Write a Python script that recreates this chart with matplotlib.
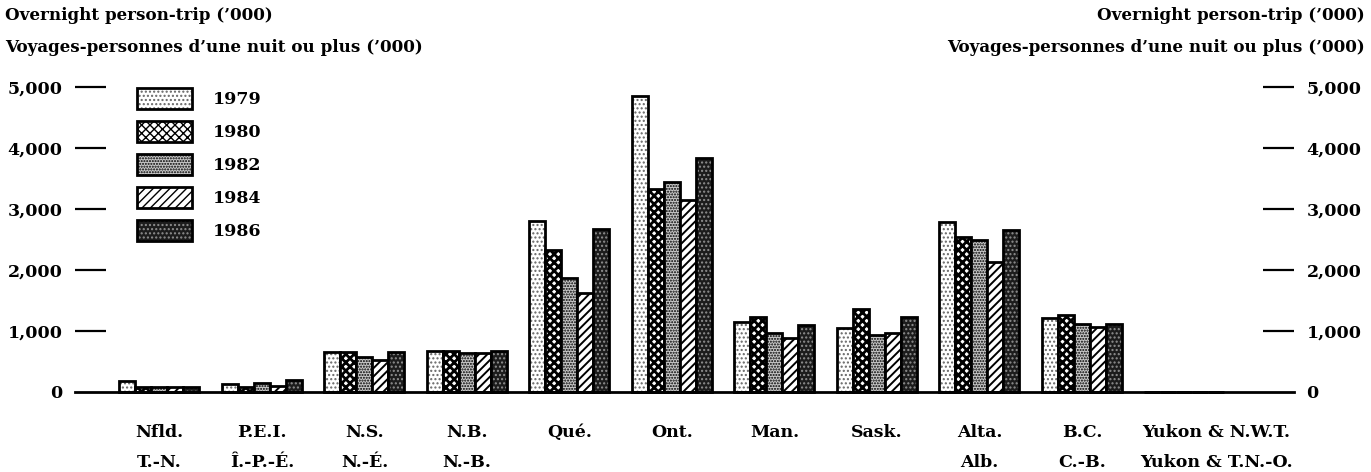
import matplotlib.pyplot as plt
import numpy as np

# provinces, English / French abbreviations
names_en = ['Nfld.', 'P.E.I.', 'N.S.', 'N.B.', 'Qué.', 'Ont.', 'Man.', 'Sask.', 'Alta.', 'B.C.', 'Yukon & N.W.T.']
names_fr = ['T.-N.', 'Î.-P.-É.', 'N.-É.', 'N.-B.', '', '', '', '', 'Alb.', 'C.-B.', 'Yukon & T.N.-O.']
years = ['1979', '1980', '1982', '1984', '1986']

# overnight person-trips ('000)
trips_1979 = [180, 130, 650, 670, 2800, 4850, 1150, 1050, 2790, 1210, 0]
trips_1980 = [90, 90, 650, 670, 2330, 3320, 1230, 1360, 2540, 1260, 0]
trips_1982 = [90, 140, 570, 640, 1870, 3440, 970, 930, 2490, 1110, 0]
trips_1984 = [90, 100, 520, 640, 1620, 3150, 890, 970, 2130, 1070, 0]
trips_1986 = [80, 190, 650, 670, 2670, 3830, 1100, 1230, 2660, 1110, 0]
series = [trips_1979, trips_1980, trips_1982, trips_1984, trips_1986]

yticks = [0, 1000, 2000, 3000, 4000, 5000]
ytick_labels = ['0', '1,000', '2,000', '3,000', '4,000', '5,000']

# fill colour, hatch, hatch colour, hatch linewidth
styles = [
    ('white', '....', '#666666', 1.0),
    ('white', 'xxxx', 'black', 2.0),
    ('#c8c8c8', '......', 'black', 1.0),
    ('white', '////', 'black', 1.4),
    ('#1c1c1c', '....', '#909090', 1.0),
]

plt.rcParams['font.family'] = ['DejaVu Serif']
plt.rcParams['font.weight'] = 'bold'
fs = 12.5

fig = plt.figure(figsize=(13.71, 4.72), dpi=100)
ax = fig.add_axes([75 / 1371, 80 / 472, 1219 / 1371, 305 / 472])

x = np.arange(len(names_en))
w = 0.156
handles = []
for j, (vals, st) in enumerate(zip(series, styles)):
    face, hatch, hcol, hlw = st
    pos = x + (j - 2) * w
    with plt.rc_context({'hatch.linewidth': hlw}):
        b1 = ax.bar(pos, vals, w, color=face, hatch=hatch, edgecolor=hcol, linewidth=0, clip_on=False)
    b2 = ax.bar(pos, vals, w, fill=False, edgecolor='black', linewidth=2, clip_on=False)
    handles.append((b1[0], b2[0]))

ax.set_xlim(-0.824, 11.07)
ax.set_ylim(0, 5000)
for s in ['top', 'left', 'right']:
    ax.spines[s].set_visible(False)
ax.spines['bottom'].set_linewidth(2)
ax.set_xticks([])
ax.set_yticks(yticks)
ax.set_yticklabels(ytick_labels, fontsize=fs)
ax.tick_params(axis='y', direction='in', length=22, width=1.6, pad=9,
               left=True, right=True, labelleft=True, labelright=True)
ax.yaxis.get_major_ticks()[0].tick1line.set_visible(False)
ax.yaxis.get_major_ticks()[0].tick2line.set_visible(False)

label_x = x.astype(float)
label_x[-1] += 0.31
for xi, en, fr in zip(label_x, names_en, names_fr):
    ax.text(xi, -0.134, en, transform=ax.get_xaxis_transform(), ha='center', va='center', fontsize=fs)
    ax.text(xi, -0.23, fr, transform=ax.get_xaxis_transform(), ha='center', va='center', fontsize=fs)

leg = ax.legend(handles, years, loc='upper left', bbox_to_anchor=(0.051, 0.997), frameon=False,
                fontsize=fs, handlelength=3.15, handleheight=1.5, handletextpad=1.2,
                labelspacing=0.68, borderpad=0, borderaxespad=0)

hfs = 12.1
fig.text(5 / 1371, 1 - 15 / 472, 'Overnight person-trip (’000)', ha='left', va='center', fontsize=hfs)
fig.text(5 / 1371, 1 - 48 / 472, 'Voyages-personnes d’une nuit ou plus (’000)', ha='left', va='center', fontsize=hfs)
fig.text(1365 / 1371, 1 - 15 / 472, 'Overnight person-trip (’000)', ha='right', va='center', fontsize=hfs)
fig.text(1365 / 1371, 1 - 48 / 472, 'Voyages-personnes d’une nuit ou plus (’000)', ha='right', va='center', fontsize=hfs)

fig.savefig('out.png', dpi=100)
